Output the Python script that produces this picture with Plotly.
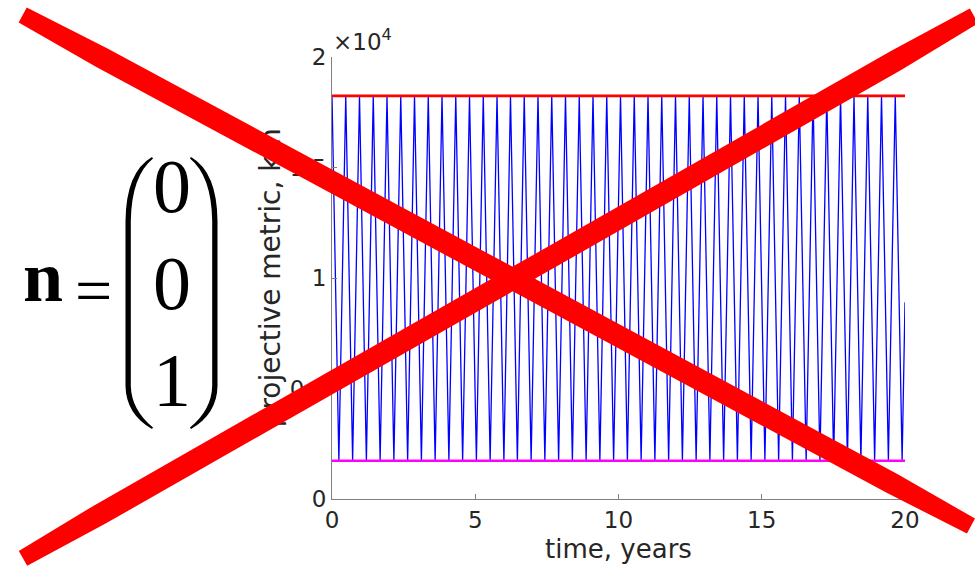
import math
import plotly.graph_objects as go

# Projective metric of the orbit over 20 years: turning points of the curve
peak_times = [0.00, 0.48, 0.96, 1.44, 1.92, 2.40, 2.88, 3.36, 3.84, 4.32,
              4.80, 5.28, 5.76, 6.23, 6.71, 7.19, 7.67, 8.15, 8.63, 9.11,
              9.59, 10.07, 10.55, 11.03, 11.51, 11.99, 12.47, 12.95, 13.43, 13.91,
              14.39, 14.87, 15.35, 15.83, 16.31, 16.79, 17.27, 17.75, 18.22, 18.70,
              19.18, 19.66]
trough_times = [0.24, 0.72, 1.20, 1.68, 2.16, 2.64, 3.12, 3.60, 4.08, 4.56,
                5.04, 5.52, 6.00, 6.47, 6.95, 7.43, 7.91, 8.39, 8.87, 9.35,
                9.83, 10.31, 10.79, 11.27, 11.75, 12.23, 12.71, 13.19, 13.67, 14.15,
                14.63, 15.11, 15.59, 16.07, 16.55, 17.03, 17.51, 17.99, 18.46, 18.94,
                19.42, 19.90]
peak_km = 18240
trough_km = 1730
end_time = 20.0
end_km = 8900

# Envelope lines (maximum and minimum of the metric)
span_years = [0, 20]
max_km = [18240, 18240]
min_km = [1730, 1730]

x_ticks = [0, 5, 10, 15, 20]
y_ticks = [0, 5000, 10000, 15000, 20000]
y_tick_text = ["0", "0.5", "1", "1.5", "2"]

# Interleave the turning points into one polyline
t, d = [], []
for tp, tt in zip(peak_times, trough_times):
    t += [tp, tt]
    d += [peak_km, trough_km]
t.append(end_time)
d.append(end_km)

W, H = 975, 571
L, R, T, B = 332, 905, 57, 499


def fx(px):
    return (px - L) / (R - L)


def fy(py):
    return (B - py) / (B - T)


def pt(x, y):
    return f"{fx(x):.5f},{fy(y):.5f}"


fig = go.Figure()
fig.add_trace(go.Scatter(x=t, y=d, mode="lines", hoverinfo="skip",
                         line=dict(color="#0000ff", width=1.3)))
fig.add_trace(go.Scatter(x=span_years, y=max_km, mode="lines",
                         line=dict(color="#ff0000", width=2.6)))
fig.add_trace(go.Scatter(x=span_years, y=min_km, mode="lines",
                         line=dict(color="#ff00ff", width=2.6)))
# placeholder trace so the title axis is laid out
fig.add_trace(go.Scatter(x=[None], y=[None], yaxis="y2", hoverinfo="skip"))

tick_font = dict(family="DejaVu Sans", size=23, color="#262626")
axis_common = dict(showline=True, linecolor="#808080", linewidth=1,
                   ticks="inside", ticklen=5, tickcolor="#808080",
                   showgrid=False, zeroline=False, tickfont=tick_font)

fig.update_layout(
    width=W, height=H,
    margin=dict(l=L, r=W - R, t=T, b=H - B, pad=0),
    paper_bgcolor="white", plot_bgcolor="white",
    showlegend=False,
    xaxis=dict(range=[0, 20], tickvals=x_ticks,
               ticktext=[str(v) for v in x_ticks],
               title=dict(text="time, years", standoff=8,
                          font=dict(family="DejaVu Sans", size=26, color="#262626")),
               **axis_common),
    yaxis=dict(range=[0, 20000], tickvals=y_ticks, ticktext=y_tick_text,
               **axis_common),
    # y-axis title, carried by a companion axis so the cross can lie over it
    yaxis2=dict(overlaying="y", anchor="free", position=0, side="left",
                range=[0, 1], tickvals=[0.491], ticktext=["projective metric, km"],
                tickangle=-90, showline=False, ticks="", showgrid=False,
                zeroline=False, ticklabelstandoff=46,
                tickfont=dict(family="DejaVu Sans", size=28, color="#262626")),
)


# Parentheses around the column vector, drawn as filled outlines
def paren_path(mirror_axis=None):
    o = [(152, 157), (126, 172), (125.5, 221), (125.5, 386), (126, 414), (152, 429)]
    i = [(153, 427.5), (131.5, 410), (130.8, 386), (130.8, 221), (131.5, 176), (153, 158.5)]

    def conv(p):
        x, y = p
        if mirror_axis is not None:
            x = 2 * mirror_axis - x
        return pt(x, y)

    return (f"M {conv(o[0])} Q {conv(o[1])} {conv(o[2])} L {conv(o[3])} "
            f"Q {conv(o[4])} {conv(o[5])} L {conv(i[0])} Q {conv(i[1])} {conv(i[2])} "
            f"L {conv(i[3])} Q {conv(i[4])} {conv(i[5])} Z")


for mirror in (None, 171.5):
    fig.add_shape(type="path", path=paren_path(mirror), xref="paper", yref="paper",
                  fillcolor="black", line=dict(width=0), layer="above")


# Large red cross: each stroke narrows a little toward its squared-off ends
def stroke_path(p0, p1, w_end=17, w_mid=21.5, ramp=90):
    (x0, y0), (x1, y1) = p0, p1
    length = math.hypot(x1 - x0, y1 - y0)
    ux, uy = (x1 - x0) / length, (y1 - y0) / length
    nx, ny = -uy, ux
    stations = [(0, w_end), (ramp, w_mid), (length - ramp, w_mid), (length, w_end)]
    left, right = [], []
    for s, w in stations:
        cx, cy = x0 + ux * s, y0 + uy * s
        left.append((cx + nx * w / 2, cy + ny * w / 2))
        right.append((cx - nx * w / 2, cy - ny * w / 2))
    ring = left + right[::-1]
    return "M " + " L ".join(pt(x, y) for x, y in ring) + " Z"


cross = [((22.7, 15), (971, 526)), ((23, 558.3), (974, 16))]
for p0, p1 in cross:
    fig.add_shape(type="path", path=stroke_path(p0, p1), xref="paper", yref="paper",
                  fillcolor="#ff0000", line=dict(width=0), layer="above")

annotations = []
serif = "Liberation Serif"
# n = (0, 0, 1)
annotations.append(dict(text="<b>n</b>", x=fx(43), y=fy(277), xref="paper", yref="paper",
                        showarrow=False, xanchor="center", yanchor="middle",
                        font=dict(family=serif, size=72, color="black")))
annotations.append(dict(text="=", x=fx(93.5), y=fy(290), xref="paper", yref="paper",
                        showarrow=False, xanchor="center", yanchor="middle",
                        font=dict(family=serif, size=66, color="black")))
for txt, cy in (("0", 186), ("0", 283), ("1", 380)):
    annotations.append(dict(text=txt, x=fx(172), y=fy(cy), xref="paper", yref="paper",
                            showarrow=False, xanchor="center", yanchor="middle",
                            font=dict(family=serif, size=76, color="black")))

# exponent label of the y axis
annotations.append(dict(text="\u00d710<sup>4</sup>", x=fx(331), y=fy(40),
                        xref="paper", yref="paper",
                        showarrow=False, xanchor="left", yanchor="middle",
                        font=dict(family="DejaVu Sans", size=23, color="#262626")))

fig.update_layout(annotations=annotations)
fig.write_html("out.html")
